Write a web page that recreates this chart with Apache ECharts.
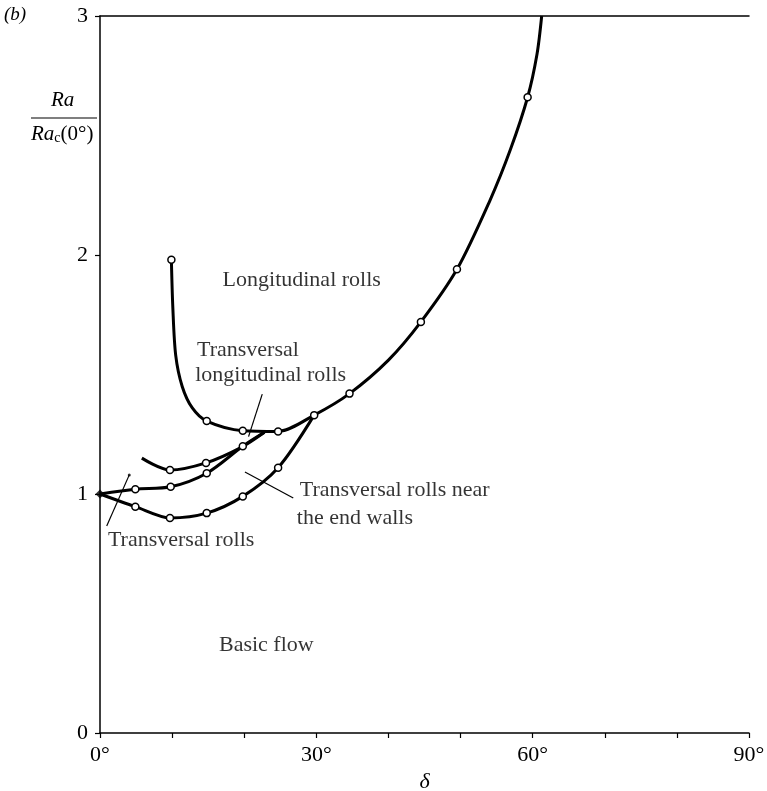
<!DOCTYPE html>
<html><head><meta charset="utf-8">
<script src="https://cdn.jsdelivr.net/npm/echarts@6/dist/echarts.min.js"></script>
<style>html,body{margin:0;padding:0;background:#fff}#c{width:767px;height:791px}</style>
</head><body><div id="c"></div>
<script>
// Data (delta in degrees, Ra/Ra_c(0°))
const xLabels = ['0°','30°','60°','90°'];
const yLabels = ['0','1','2','3'];
// main curve: boundary of longitudinal rolls (m = marker shown)
const longX = [9.9, 10.1, 10.5, 11.4, 12.8, 14.8, 19.8, 24.7, 29.7, 34.6, 40.0, 44.5, 49.5, 54.1, 56.9, 59.3, 60.6, 61.25];
const longY = [1.98, 1.78, 1.58, 1.45, 1.36, 1.305, 1.265, 1.262, 1.33, 1.42, 1.56, 1.72, 1.94, 2.23, 2.44, 2.66, 2.84, 3.0];
const longM = [1,0,0,0,0,1,1,1,1,1,0,1,1,0,0,1,0,0];
// transversal-longitudinal upper branch
const tlUpX = [5.8, 9.7, 14.7, 19.6, 22.8];
const tlUpY = [1.15, 1.10, 1.13, 1.195, 1.258];
const tlUpM = [0,1,1,0,0];
// transversal-longitudinal lower branch
const tlLoX = [0, 4.9, 9.8, 14.8, 19.8, 22.8];
const tlLoY = [1.0, 1.02, 1.03, 1.087, 1.20, 1.258];
const tlLoM = [0,1,1,1,1,0];
// transversal rolls near the end walls
const endX = [0, 4.9, 9.7, 14.8, 19.8, 24.7, 29.7];
const endY = [1.0, 0.947, 0.90, 0.92, 0.99, 1.11, 1.33];
const endM = [0,1,1,1,1,1,0];
// annotations (data coords)
const annTexts = ['Longitudinal rolls','Transversal','longitudinal rolls','Transversal rolls near','the end walls','Transversal rolls','Basic flow'];
const annX = [17.0, 13.45, 13.2, 27.7, 27.3, 1.1, 16.5];
const annY = [1.895, 1.603, 1.498, 1.017, 0.90, 0.808, 0.368];
const ptrTL = [[22.5,1.418],[20.6,1.24]];
const ptrEnd = [[20.1,1.092],[26.8,0.983]];
const ptrTR = [[0.93,0.866],[4.06,1.08]];

const serif = '"Liberation Serif","DejaVu Serif",serif';
function mk(xs, ys, ms){
  return xs.map((x,i)=>({value:[x,ys[i]], symbol: ms[i]?'circle':'none'}));
}
function curve(xs,ys,ms){
  return {type:'line', data:mk(xs,ys,ms), smooth:0.3,
    symbolSize:7, itemStyle:{color:'#fff',borderColor:'#000',borderWidth:1.5},
    lineStyle:{color:'#000',width:3}, z:3, silent:true, animation:false};
}
function ptr(pts){
  return {type:'line', data:pts, symbol:'none', lineStyle:{color:'#000',width:1.2}, animation:false, silent:true, z:2};
}
const chart = echarts.init(document.getElementById('c'));
const axisTxt = {fontFamily:serif, fontSize:22, color:'#000'};
chart.setOption({
  backgroundColor:'#fff',
  animation:false,
  grid:{left:100,right:18,top:16,bottom:58,containLabel:false,outerBoundsMode:'none'},
  xAxis:[{type:'value',min:0,max:90,interval:10,
    axisLine:{lineStyle:{color:'#000',width:1.5}},
    axisTick:{show:true,length:5,lineStyle:{color:'#000',width:1.2}},
    axisLabel:Object.assign({margin:11,formatter:v=> (v%30===0? xLabels[v/30] : '')},axisTxt),
    splitLine:{show:false},
    name:'δ', nameLocation:'middle', nameGap:38,
    nameTextStyle:{fontFamily:serif,fontSize:22,fontStyle:'italic',color:'#000'}},
   {type:'value',min:0,max:90,position:'top',
    axisLine:{show:true,lineStyle:{color:'#000',width:1.5}},
    axisTick:{show:false},axisLabel:{show:false},splitLine:{show:false}}],
  yAxis:{type:'value',min:0,max:3,interval:1,
    axisLine:{show:true,lineStyle:{color:'#000',width:1.5}},
    axisTick:{show:true,length:5,lineStyle:{color:'#000',width:1.2}},
    axisLabel:Object.assign({margin:12,formatter:v=>yLabels[v]},axisTxt),
    splitLine:{show:false}},
  series:[
    curve(longX,longY,longM),
    curve(tlUpX,tlUpY,tlUpM),
    curve(tlLoX,tlLoY,tlLoM),
    curve(endX,endY,endM),
    {type:'scatter',data:[[0,1]],symbol:'diamond',symbolSize:9,itemStyle:{color:'#000'},z:5,silent:true},
    ptr(ptrTL), ptr(ptrEnd), ptr(ptrTR),
    {type:'scatter',data:[ptrTR[1]],symbol:'circle',symbolSize:3,itemStyle:{color:'#000'},silent:true},
    {type:'scatter',silent:true,symbolSize:0,
      data:annTexts.map((t,i)=>({value:[annX[i],annY[i]],name:t})),
      label:{show:true,position:'right',distance:0,formatter:p=>p.name,fontFamily:serif,fontSize:22,color:'#000'}}
  ],
  graphic:[
    {type:'text',left:4,top:5,style:{text:'(b)',font:'italic 19px '+serif,fill:'#000'}},
    {type:'text',left:51,top:90,style:{text:'Ra',font:'italic 21px '+serif,fill:'#000'}},
    {type:'line',shape:{x1:31,y1:118,x2:97,y2:118},style:{stroke:'#000',lineWidth:1.2}},
    {type:'text',left:31,top:124,style:{
      text:'{i|Ra}{s|c}{n|(0°)}',
      rich:{i:{font:'italic 21px '+serif,fill:'#000'},
            s:{font:'14px '+serif,fill:'#000',padding:[8,0,0,0]},
            n:{font:'21px '+serif,fill:'#000'}}}}
  ]
});
</script></body></html>
